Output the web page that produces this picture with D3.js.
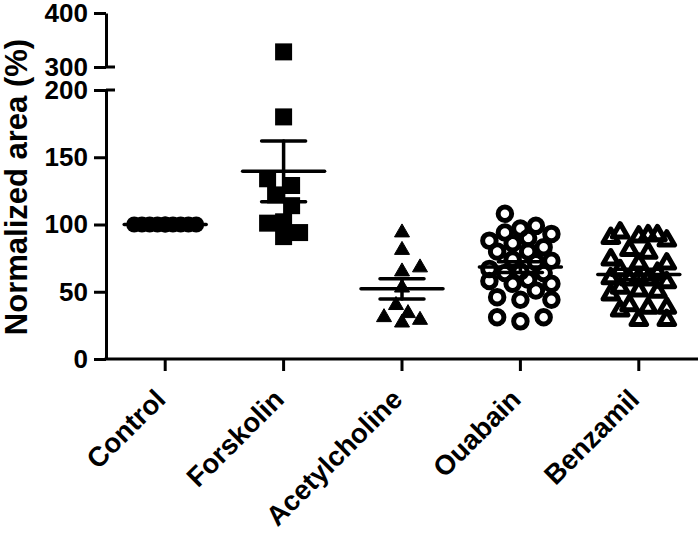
<!DOCTYPE html>
<html><head><meta charset="utf-8">
<script src="https://cdn.jsdelivr.net/npm/d3@7"></script>
<style>
body{margin:0;background:#fff;}
svg{display:block;}
text{font-family:"Liberation Sans",Arial,Helvetica,sans-serif;font-weight:bold;fill:#000;}
</style>
</head><body>
<svg id="c" width="698" height="536"></svg>
<script>
// ---- data ----
const categories = ["Control","Forskolin","Acetylcholine","Ouabain","Benzamil"];
const controlVals = [100,100,100,100,100,100,100,100,100,100];
const forskolinVals = [328,180,129,122,134,114,101,102,94,91];
const acetylcholineVals = [94,81,68,65,53,40,31,34,27,29];
const ouabainVals = [108,94,97,99,93,86,80,83,80,73,64,64,56,56,51,46,44,44,31,28,31,67,65,58,59,72,74,88,90];
const benzamilVals = [91,94,92,90,88,92,74,79,81,71,71,50,51,53,48,38,40,38,29,29,36,60,60,59,66,64,57,59];
const lowerTicks = [0,50,100,150,200];
const upperTicks = [300,400];
const yLabel = "Normalized area (%)";

const groups = [controlVals, forskolinVals, acetylcholineVals, ouabainVals, benzamilVals];

// ---- layout ----
const svg = d3.select("#c");
const axisX = 106, axisY = 359, rightX = 698;
const yLow = d3.scaleLinear().domain([0,200]).range([359,90]);
const yHigh = d3.scaleLinear().domain([300,400]).range([67,13]);
const y = v => v > 250 ? yHigh(v) : yLow(v);
const x = d3.scaleBand().domain(categories).range([axisX, rightX]).padding(0);
const cx = c => x(c) + x.bandwidth()/2;

const markers = [
  {type:"circle", size:16, filled:true, half:31},
  {type:"square", size:17, filled:true, half:24},
  {type:"triangle", size:15, filled:true, half:24},
  {type:"circle", size:18.5, filled:false, half:31},
  {type:"triangle", size:20.5, filled:false, half:28}
];

// simple deterministic swarm layout
function swarm(vals, diam, maxHalf){
  const order = vals.map((v,i)=>i).sort((a,b)=>vals[a]-vals[b]);
  const placed = [];
  const offs = new Array(vals.length);
  const nSteps = Math.max(1, Math.round(maxHalf/(diam/2.2)));
  const step = maxHalf/nSteps;
  const cands = [0];
  for(let k=1;k<=nSteps;k++){cands.push(k*step);cands.push(-k*step);}
  order.forEach(i=>{
    const py = y(vals[i]);
    let best=null,bestD=-1;
    for(const c of cands){
      let md=Infinity;
      for(const p of placed){const d=Math.hypot(p.x-c,p.y-py); if(d<md) md=d;}
      if(md>=diam*0.95){best=c;bestD=md;break;}
      if(md>bestD+0.5){bestD=md;best=c;}
    }
    offs[i]=best;
    placed.push({x:best,y:py});
  });
  return offs;
}

// ---- axes ----
const ax = svg.append("g");
const gLow = ax.append("g").attr("transform",`translate(${axisX},0)`)
  .call(d3.axisLeft(yLow).tickValues(lowerTicks).tickSize(12).tickSizeOuter(0).tickPadding(6));
const gHigh = ax.append("g").attr("transform",`translate(${axisX},0)`)
  .call(d3.axisLeft(yHigh).tickValues(upperTicks).tickSize(12).tickSizeOuter(0).tickPadding(6));
[gLow,gHigh].forEach(g=>{
  g.selectAll("path,line").attr("stroke","#000").attr("stroke-width",3);
  g.selectAll("text").style("font-size","26px").attr("fill","#000");
});
// break marks extend to the right
ax.append("line").attr("x1",axisX).attr("x2",axisX+9).attr("y1",yLow(200)).attr("y2",yLow(200)).attr("stroke","#000").attr("stroke-width",3);
ax.append("line").attr("x1",axisX).attr("x2",axisX+9).attr("y1",yHigh(300)).attr("y2",yHigh(300)).attr("stroke","#000").attr("stroke-width",3);

// x axis
const gX = ax.append("g").attr("transform",`translate(0,${axisY})`)
  .call(d3.axisBottom(x).tickSize(12).tickSizeOuter(0));
gX.selectAll("path,line").attr("stroke","#000").attr("stroke-width",3);
gX.select(".domain").attr("d",`M${axisX-1.5},0H${rightX}`);
gX.selectAll("text").style("font-size","27.5px")
  .attr("x",0).attr("y",0).attr("dy",0)
  .attr("text-anchor","end")
  .attr("transform","translate(2,42) rotate(-45)");

// y label
svg.append("text").attr("transform","translate(27,187) rotate(-90)")
  .attr("text-anchor","middle").style("font-size","31px").text(yLabel);

// ---- points ----
const pts = svg.append("g");
groups.forEach((vals,gi)=>{
  const m = markers[gi];
  const offs = swarm(vals, m.size, m.half);
  const c0 = cx(categories[gi]);
  vals.forEach((v,i)=>{
    const px = c0+offs[i], py = y(v);
    if(m.type==="circle"){
      if(m.filled) pts.append("circle").attr("cx",px).attr("cy",py).attr("r",m.size/2).attr("fill","#000");
      else pts.append("circle").attr("cx",px).attr("cy",py).attr("r",m.size/2-2.5).attr("fill","none").attr("stroke","#000").attr("stroke-width",5);
    } else if(m.type==="square"){
      pts.append("rect").attr("x",px-m.size/2).attr("y",py-m.size/2).attr("width",m.size).attr("height",m.size).attr("fill","#000");
    } else {
      const side = m.filled ? m.size : m.size-5;
      const area = side*side*Math.sqrt(3)/4;
      const p = pts.append("path").attr("d",d3.symbol(d3.symbolTriangle, area)()).attr("transform",`translate(${px},${py})`);
      if(m.filled) p.attr("fill","#000").attr("stroke","#000").attr("stroke-width",1).attr("stroke-linejoin","round");
      else p.attr("fill","none").attr("stroke","#000").attr("stroke-width",5).attr("stroke-linejoin","round");
    }
  });
});

// ---- mean ± SEM ----
const eb = svg.append("g").attr("stroke","#000").attr("stroke-width",3.5).attr("stroke-linecap","round");
groups.forEach((vals,gi)=>{
  const mean = d3.mean(vals);
  const sem = d3.deviation(vals)/Math.sqrt(vals.length);
  const c0 = cx(categories[gi]);
  eb.append("line").attr("x1",c0-41).attr("x2",c0+41).attr("y1",y(mean)).attr("y2",y(mean));
  eb.append("line").attr("x1",c0).attr("x2",c0).attr("y1",y(mean+sem)).attr("y2",y(mean-sem));
  eb.append("line").attr("x1",c0-22).attr("x2",c0+22).attr("y1",y(mean+sem)).attr("y2",y(mean+sem));
  eb.append("line").attr("x1",c0-22).attr("x2",c0+22).attr("y1",y(mean-sem)).attr("y2",y(mean-sem));
});
</script>
</body></html>
